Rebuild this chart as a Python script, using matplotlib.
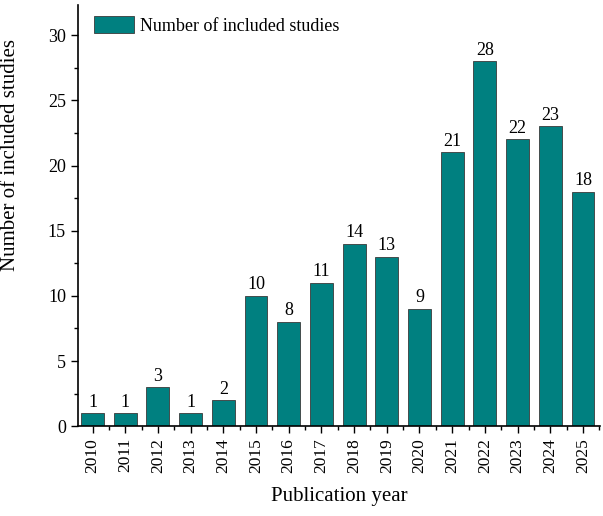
import matplotlib.pyplot as plt
import numpy as np
from matplotlib.ticker import MultipleLocator

years = [str(y) for y in range(2010, 2026)]
counts = [1, 1, 3, 1, 2, 10, 8, 11, 14, 13, 9, 21, 28, 22, 23, 18]

plt.rcParams["font.family"] = ["Liberation Serif", "DejaVu Serif"]

fig = plt.figure(figsize=(6.03, 5.16), dpi=100)
ax = fig.add_axes([0.129, 0.174, 0.866, 0.816])

x = np.arange(len(years))
ax.bar(x, counts, width=0.7, color="#008080", edgecolor="#3a3a3a", linewidth=0.6,
       label="Number of included studies")
for xi, c in zip(x, counts):
    ax.text(xi, c + 0.2, str(c), ha="center", va="bottom", fontsize=13)

ax.set_xlim(-0.45, 15.52)
ax.set_ylim(0, 32.3)
ax.set_xticks(x)
ax.set_xticklabels(years, rotation=90, fontsize=12.5)
ax.set_xticks(x + 0.5, minor=True)
ax.yaxis.set_major_locator(MultipleLocator(5))
ax.yaxis.set_minor_locator(MultipleLocator(2.5))
ax.tick_params(axis="both", which="major", direction="out", length=5, width=1)
ax.tick_params(axis="y", labelsize=13)
ax.tick_params(axis="both", which="minor", direction="out", length=3, width=1)
for s in ["top", "right"]:
    ax.spines[s].set_visible(False)
for s in ["left", "bottom"]:
    ax.spines[s].set_linewidth(1.2)

ax.set_xlabel("Publication year", fontsize=15, labelpad=10)
ax.set_ylabel("Number of included studies", fontsize=15)
ax.yaxis.set_label_coords(-0.11, 0.645)
ax.legend(loc="upper left", frameon=False, fontsize=13, handlelength=2.25, handleheight=1.05,
          handletextpad=0.3, bbox_to_anchor=(0.01, 1.0), borderaxespad=0.2)

fig.savefig("out.png", dpi=100)
